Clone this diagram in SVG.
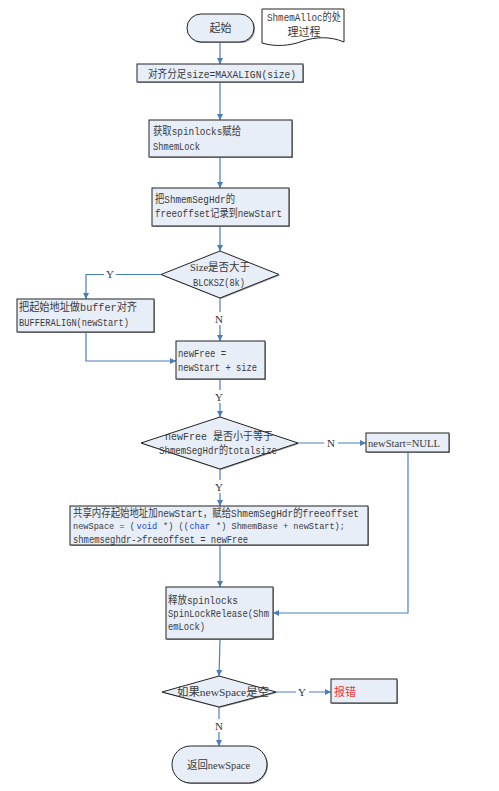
<svg xmlns="http://www.w3.org/2000/svg" width="499" height="791" viewBox="0 0 499 791">
<style>
.n{fill:#E8EEF7;stroke:#222;stroke-width:1}
.sh{fill:#9a9a9a}
.t{font-family:"Liberation Mono","Noto Sans CJK SC",monospace;font-size:11px;fill:#3a3a3a}
.s{font-family:"Liberation Serif","Noto Sans CJK SC",serif;font-size:11px;fill:#3a3a3a}
.cd{font-family:"Liberation Mono",monospace;font-size:8.6px;fill:#3a3a3a}
.c{fill:none;stroke:#4A7EBB;stroke-width:1.2}
.lb{font-family:"Liberation Serif",serif;font-size:11px;fill:#333;text-anchor:middle}
.kw{fill:#1a3fd6}
</style>
<defs>
<marker id="ah" viewBox="0 0 10 10" refX="10" refY="5" markerWidth="6" markerHeight="6" orient="auto" markerUnits="userSpaceOnUse">
<path d="M0,0 L10,5 L0,10 Z" fill="#4A7EBB"/>
</marker>
</defs>
<rect width="499" height="791" fill="#fff"/>
<g id="connectors">
<path class="c" d="M220,42 V64" marker-end="url(#ah)"/>
<path class="c" d="M220,82 V120" marker-end="url(#ah)"/>
<path class="c" d="M220,157 V188" marker-end="url(#ah)"/>
<path class="c" d="M220,226 V251" marker-end="url(#ah)"/>
<path class="c" d="M161,274.5 H86 V299" marker-end="url(#ah)"/>
<path class="c" d="M220,298 V341" marker-end="url(#ah)"/>
<path class="c" d="M86,332 V361 H176" marker-end="url(#ah)"/>
<path class="c" d="M220,379 V417" marker-end="url(#ah)"/>
<path class="c" d="M298,443 H366" marker-end="url(#ah)"/>
<path class="c" d="M220,469 V506" marker-end="url(#ah)"/>
<path class="c" d="M220,545 V587" marker-end="url(#ah)"/>
<path class="c" d="M408,452 V613 H273" marker-end="url(#ah)"/>
<path class="c" d="M220,639 L219,676" marker-end="url(#ah)"/>
<path class="c" d="M276,692 H331" marker-end="url(#ah)"/>
<path class="c" d="M219,707 V746" marker-end="url(#ah)"/>
<g>
<rect x="104" y="268" width="12" height="13" fill="#fff"/><text class="lb" x="110" y="278">Y</text>
<rect x="213" y="312" width="13" height="13" fill="#fff"/><text class="lb" x="219" y="323">N</text>
<rect x="213" y="390" width="13" height="13" fill="#fff"/><text class="lb" x="219" y="401">Y</text>
<rect x="324" y="436" width="14" height="13" fill="#fff"/><text class="lb" x="331" y="447">N</text>
<rect x="213" y="480" width="13" height="13" fill="#fff"/><text class="lb" x="219" y="491">Y</text>
<rect x="296" y="685" width="13" height="13" fill="#fff"/><text class="lb" x="302" y="696">Y</text>
<rect x="213" y="719" width="13" height="13" fill="#fff"/><text class="lb" x="219" y="730">N</text>
</g>
</g>
<g id="start">
<rect class="sh" x="188" y="15" width="67" height="28" rx="14"/>
<rect class="n" x="187" y="14" width="67" height="28" rx="14"/>
<text class="t" x="220.5" y="32" text-anchor="middle">起始</text>
</g>
<g id="note">
<path d="M262,9 H344 V42 C330,36 315,37 303,41 C290,46 275,47 262,43 Z" fill="#fff" stroke="#222" stroke-width="1"/>
<text class="t" x="304" y="21" text-anchor="middle" textLength="74" lengthAdjust="spacingAndGlyphs">ShmemAlloc的处</text>
<text class="t" x="304" y="36" text-anchor="middle">理过程</text>
</g>
<g id="align">
<rect class="sh" x="138" y="65" width="166" height="18"/>
<rect class="n" x="137" y="64" width="166" height="18"/>
<text class="t" x="148" y="78" textLength="148" lengthAdjust="spacingAndGlyphs">对齐分足size=MAXALIGN(size)</text>
</g>
<g id="lock">
<rect class="sh" x="150" y="121" width="143" height="37"/>
<rect class="n" x="149" y="120" width="143" height="37"/>
<text class="t" x="153" y="135" textLength="88" lengthAdjust="spacingAndGlyphs">获取spinlocks赋给</text>
<text class="t" x="153" y="150" textLength="47" lengthAdjust="spacingAndGlyphs">ShmemLock</text>
</g>
<g id="record">
<rect class="sh" x="153" y="189" width="137" height="38"/>
<rect class="n" x="152" y="188" width="137" height="38"/>
<text class="t" x="155" y="203" textLength="80" lengthAdjust="spacingAndGlyphs">把ShmemSegHdr的</text>
<text class="t" x="155" y="217" textLength="127" lengthAdjust="spacingAndGlyphs">freeoffset记录到newStart</text>
</g>
<g id="dec1">
<polygon class="sh" points="221,252 280,275.5 221,299 162,275.5"/>
<polygon class="n" points="220,251 279,274.5 220,298 161,274.5"/>
<text class="s" x="220" y="271" text-anchor="middle" textLength="60" lengthAdjust="spacingAndGlyphs">Size是否大于</text>
<text class="t" x="219" y="286" text-anchor="middle" textLength="52" lengthAdjust="spacingAndGlyphs">BLCKSZ(8k)</text>
</g>
<g id="bufalign">
<rect class="sh" x="18" y="300" width="137" height="33"/>
<rect class="n" x="17" y="299" width="137" height="33"/>
<text class="t" x="19" y="311" textLength="118" lengthAdjust="spacingAndGlyphs">把起始地址做buffer对齐</text>
<text class="t" x="19" y="326" textLength="110" lengthAdjust="spacingAndGlyphs">BUFFERALIGN(newStart)</text>
</g>
<g id="newfree">
<rect class="sh" x="177" y="342" width="89" height="38"/>
<rect class="n" x="176" y="341" width="89" height="38"/>
<text class="t" x="178" y="357" textLength="48" lengthAdjust="spacingAndGlyphs">newFree =</text>
<text class="t" x="178" y="371" textLength="79" lengthAdjust="spacingAndGlyphs">newStart + size</text>
</g>
<g id="dec2">
<polygon class="sh" points="221,418 299,444 221,470 142,444"/>
<polygon class="n" points="220,417 298,443 220,469 141,443"/>
<text class="t" x="219" y="440" text-anchor="middle" textLength="108" lengthAdjust="spacingAndGlyphs">newFree 是否小于等于</text>
<text class="t" x="218" y="454" text-anchor="middle" textLength="118" lengthAdjust="spacingAndGlyphs">ShmemSegHdr的totalsize</text>
</g>
<g id="nullstart">
<rect class="sh" x="367" y="434" width="83" height="19"/>
<rect class="n" x="366" y="433" width="83" height="19"/>
<text class="s" x="368" y="447" textLength="72" lengthAdjust="spacingAndGlyphs">newStart=NULL</text>
</g>
<g id="assign">
<rect class="sh" x="71" y="507" width="298" height="39"/>
<rect class="n" x="70" y="506" width="298" height="39"/>
<text class="t" x="73" y="517" textLength="286" lengthAdjust="spacingAndGlyphs">共享内存起始地址加newStart，赋给ShmemSegHdr的freeoffset</text>
<text class="cd" x="73" y="529">newSpace = (</text>
<text class="cd kw" x="136.5" y="529">void</text>
<text class="cd" x="163" y="529">*) ((</text>
<text class="cd kw" x="189.4" y="529">char</text>
<text class="cd" x="216" y="529">*) ShmemBase + newStart);</text>
<text class="t" x="73" y="543" textLength="175" lengthAdjust="spacingAndGlyphs">shmemseghdr-&gt;freeoffset = newFree</text>
</g>
<g id="release">
<rect class="sh" x="167" y="588" width="107" height="52"/>
<rect class="n" x="166" y="587" width="107" height="52"/>
<text class="t" x="168" y="604" textLength="70" lengthAdjust="spacingAndGlyphs">释放spinlocks</text>
<text class="t" x="168" y="617" textLength="101" lengthAdjust="spacingAndGlyphs">SpinLockRelease(Shm</text>
<text class="t" x="168" y="630" textLength="37" lengthAdjust="spacingAndGlyphs">emLock)</text>
</g>
<g id="dec3">
<polygon class="sh" points="220,677 277,693 220,708 163,693"/>
<polygon class="n" points="219,676 276,692 219,707 162,692"/>
<text class="s" x="223" y="696" text-anchor="middle" textLength="92" lengthAdjust="spacingAndGlyphs">如果newSpace是空</text>
</g>
<g id="error">
<rect class="sh" x="332" y="680" width="66" height="24"/>
<rect class="n" x="331" y="679" width="66" height="24"/>
<text class="s" x="334" y="696" style="fill:#f0383a">报错</text>
</g>
<g id="end">
<rect class="sh" x="173" y="747" width="95" height="37" rx="18.5"/>
<rect class="n" x="172" y="746" width="95" height="37" rx="18.5"/>
<text class="s" x="218.5" y="769" text-anchor="middle" textLength="63" lengthAdjust="spacingAndGlyphs">返回newSpace</text>
</g>
</svg>
